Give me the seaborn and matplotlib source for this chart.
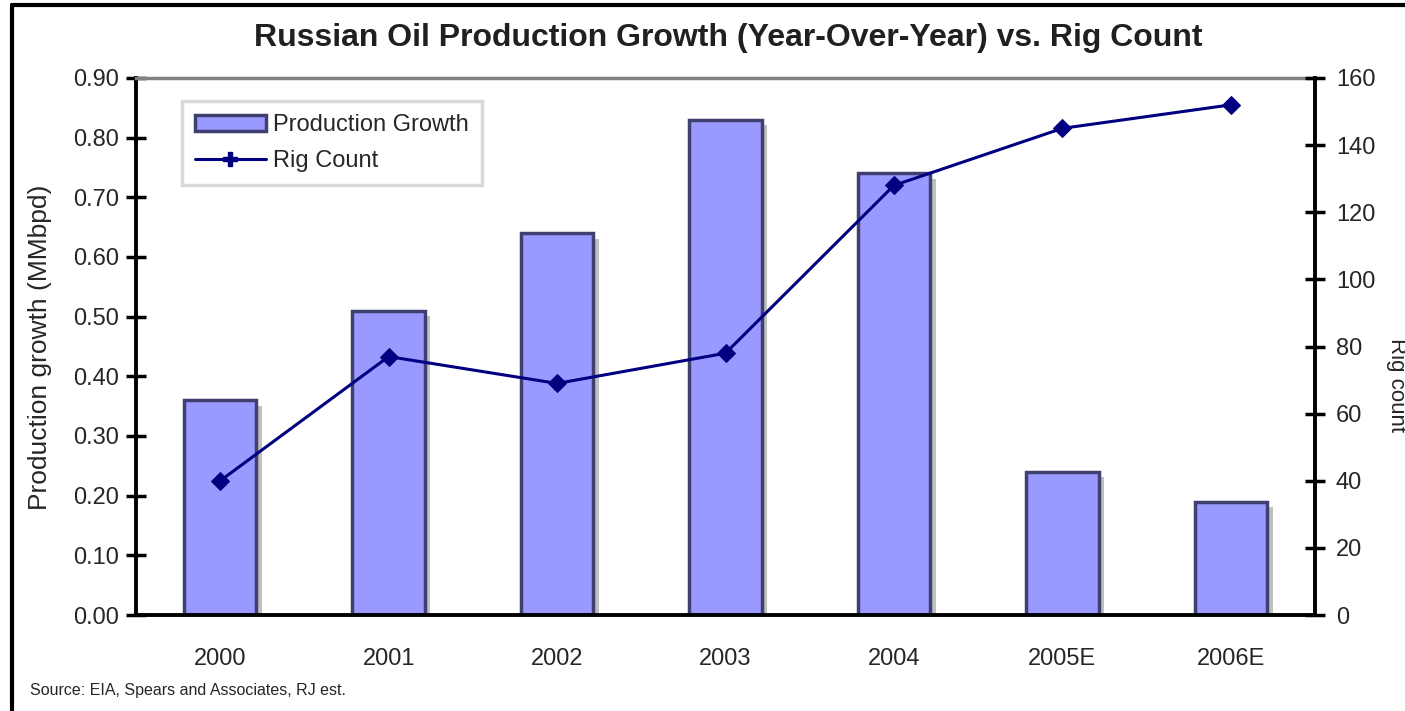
import matplotlib
matplotlib.use("Agg")
import matplotlib.pyplot as plt
import matplotlib.patheffects as pe
from matplotlib.lines import Line2D
from matplotlib.patches import Patch
import seaborn as sns
import numpy as np
import pandas as pd

years = ["2000", "2001", "2002", "2003", "2004", "2005E", "2006E"]
production_growth = [0.36, 0.51, 0.64, 0.83, 0.74, 0.24, 0.19]
rig_count = [40, 77, 69, 78, 128, 145, 152]
left_ticks = ["0.00", "0.10", "0.20", "0.30", "0.40", "0.50", "0.60", "0.70", "0.80", "0.90"]
right_ticks = [0, 20, 40, 60, 80, 100, 120, 140, 160]

sns.set_theme(style="white")
plt.rcParams["font.family"] = ["Liberation Sans", "DejaVu Sans"]

df = pd.DataFrame({
    "year": years,
    "growth": production_growth,
    "rigs": rig_count,
})

fig = plt.figure(figsize=(14.05, 7.11), dpi=100)
ax = fig.add_axes([136 / 1405, 1 - 615 / 711, (1315 - 136) / 1405, (615 - 78) / 711])

bar_color = "#9999FF"
edge_color = "#404070"
line_color = "#000080"

sns.barplot(
    data=df,
    x="year",
    y="growth",
    color=bar_color,
    saturation=1,
    width=0.43,
    edgecolor=edge_color,
    linewidth=2.5,
    ax=ax
)
for bar in ax.patches:
    bar.set_path_effects([
        pe.SimplePatchShadow(offset=(4, -4), shadow_rgbFace="#c0c0c0", alpha=1),
        pe.Normal()
    ])

ax.set_ylim(0, 0.9)
ax.set_yticks(np.arange(0, 0.91, 0.1), labels=left_ticks)
ax.set_xlim(-0.5, 6.5)
ax.set_xticks(np.arange(-0.5, 7, 1), labels=[""] * 8)
ax.set_xticks(range(len(years)), labels=years, minor=True)
ax.tick_params(axis="x", which="major", direction="inout", length=14, width=2.5, color="black")
ax.tick_params(axis="x", which="minor", length=0, pad=24, labelsize=17)
ax.tick_params(axis="y", direction="inout", length=14, width=2.5, color="black", labelsize=17, pad=5, left=True)
ax.set_xlabel("")
ax.set_ylabel("")

for side in ["left", "bottom"]:
    ax.spines[side].set_color("black")
    ax.spines[side].set_linewidth(2.8)
ax.spines["top"].set_color("#808080")
ax.spines["top"].set_linewidth(2.5)
ax.spines["right"].set_visible(False)

ax2 = ax.twinx()
sns.lineplot(
    x=list(range(len(years))),
    y=rig_count,
    sort=False,
    color=line_color,
    linewidth=2.2,
    marker="D",
    markersize=9,
    markeredgecolor=line_color,
    ax=ax2
)
ax2.set_ylim(0, 160)
ax2.set_yticks(right_ticks, labels=[str(t) for t in right_ticks])
ax2.tick_params(axis="y", direction="inout", length=14, width=2.5, color="black", labelsize=17, pad=8, right=True)
ax2.spines["right"].set_visible(True)
ax2.spines["right"].set_color("black")
ax2.spines["right"].set_linewidth(2.8)
for side in ["left", "top", "bottom"]:
    ax2.spines[side].set_visible(False)
ax2.set_ylabel("")

handles = [
    Patch(facecolor=bar_color, edgecolor=edge_color, linewidth=2.5),
    Line2D([0], [0], color=line_color, linewidth=2.2, marker="P", markersize=10),
]
leg = ax2.legend(
    handles,
    ["Production Growth", "Rig Count"],
    loc="upper left",
    bbox_to_anchor=(0.039, 0.957),
    borderaxespad=0,
    fancybox=False,
    frameon=True,
    fontsize=17,
    handlelength=3.0,
    labelspacing=0.6,
    borderpad=0.55,
    handletextpad=0.3,
)
leg.get_frame().set_edgecolor("#d0d0d0")
leg.get_frame().set_linewidth(2.5)
leg.set_zorder(5)

fig.text(0.518, 1 - 38 / 711, "Russian Oil Production Growth (Year-Over-Year) vs. Rig Count",
         ha="center", va="center", fontsize=23, fontweight="bold", color="#202020")
fig.text(40 / 1405, 1 - 347 / 711, "Production growth (MMbpd)", rotation=90,
         ha="center", va="center", fontsize=19)
fig.text(1396 / 1405, 1 - 385 / 711, "Rig count", rotation=270,
         ha="center", va="center", fontsize=16)
fig.text(30 / 1405, 1 - 690 / 711, "Source: EIA, Spears and Associates, RJ est.",
         ha="left", va="center", fontsize=11.5)

# frame around the exhibit
fig.add_artist(Line2D([12 / 1405, 12 / 1405], [0, 1 - 5 / 711], color="black", linewidth=3,
                      transform=fig.transFigure))
fig.add_artist(Line2D([12 / 1405, 1], [1 - 5 / 711, 1 - 5 / 711], color="black", linewidth=3,
                      transform=fig.transFigure))

fig.savefig("out.png", dpi=100)
